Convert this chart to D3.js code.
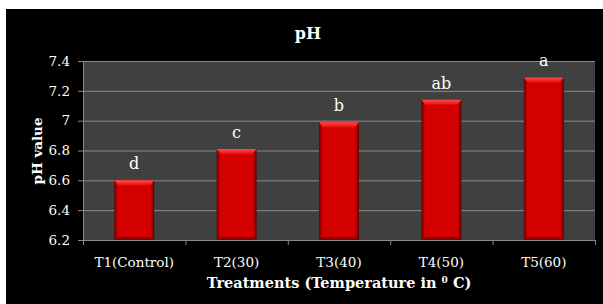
<!DOCTYPE html>
<html>
<head>
<meta charset="utf-8">
<script src="https://cdn.jsdelivr.net/npm/d3@7"></script>
<style>
  body { margin: 0; background: #fff; }
  svg { display: block; }
  text { font-family: "DejaVu Serif", "Liberation Serif", serif; fill: #fff; }
</style>
</head>
<body>
<svg id="chart"></svg>
<script>
const treatments = ["T1(Control)", "T2(30)", "T3(40)", "T4(50)", "T5(60)"];
const phValues = [6.6, 6.81, 6.99, 7.14, 7.29];
const letters = ["d", "c", "b", "ab", "a"];
const yTicks = [6.2, 6.4, 6.6, 6.8, 7, 7.2, 7.4];

const width = 603, height = 304;
const margin = { top: 61, right: 8, bottom: 64, left: 83 };
const svg = d3.select("#chart").attr("width", width).attr("height", height);

// black chart box
svg.append("rect").attr("x", 6).attr("y", 9).attr("width", width - 6).attr("height", height - 9).attr("fill", "#000");

const plotW = width - margin.left - margin.right;
const plotH = height - margin.top - margin.bottom;

const defs = svg.append("defs");
const side = defs.append("linearGradient").attr("id", "barSide").attr("x1", 0).attr("x2", 1).attr("y1", 0).attr("y2", 0);
side.append("stop").attr("offset", "0%").attr("stop-color", "#6a0000");
side.append("stop").attr("offset", "9%").attr("stop-color", "#d40000");
side.append("stop").attr("offset", "91%").attr("stop-color", "#d40000");
side.append("stop").attr("offset", "100%").attr("stop-color", "#5a0000");
const topG = defs.append("linearGradient").attr("id", "barTop").attr("x1", 0).attr("x2", 0).attr("y1", 0).attr("y2", 1);
topG.append("stop").attr("offset", "0%").attr("stop-color", "#ff4a4a");
topG.append("stop").attr("offset", "100%").attr("stop-color", "#e81010");

const x = d3.scaleBand().domain(treatments).range([0, plotW]).paddingInner(0).paddingOuter(0);
const y = d3.scaleLinear().domain([6.2, 7.4]).range([plotH, 0]);

const g = svg.append("g").attr("transform", `translate(${margin.left},${margin.top})`);

g.append("rect").attr("width", plotW).attr("height", plotH).attr("fill", "#404040");

// gridlines
g.selectAll(".grid").data(yTicks.slice(1)).enter().append("line")
  .attr("x1", 0).attr("x2", plotW)
  .attr("y1", d => y(d) + 0.5).attr("y2", d => y(d) + 0.5)
  .attr("stroke", "#8a8a8a").attr("stroke-width", 1);

// bars
const barW = x.bandwidth() * 0.39;
const bars = g.selectAll(".bar").data(treatments).enter().append("g")
  .attr("transform", d => `translate(${x(d) + (x.bandwidth() - barW) / 2},0)`);

bars.append("rect")
  .attr("y", (d, i) => y(phValues[i]))
  .attr("width", barW)
  .attr("height", (d, i) => plotH - y(phValues[i]))
  .attr("fill", "url(#barSide)");

// top bevel
bars.append("path")
  .attr("d", (d, i) => {
    const t = y(phValues[i]), b = 5;
    return `M0,${t}L${barW},${t}L${barW - 4},${t + b}L4,${t + b}Z`;
  })
  .attr("fill", "url(#barTop)");

// bottom shade
bars.append("path")
  .attr("d", () => `M0,${plotH}L${barW},${plotH}L${barW - 4},${plotH - 3}L4,${plotH - 3}Z`)
  .attr("fill", "#8a0000");

// letters
bars.append("text")
  .attr("x", barW / 2)
  .attr("y", (d, i) => y(phValues[i]) - 11)
  .attr("text-anchor", "middle")
  .attr("font-size", "16px")
  .text((d, i) => letters[i]);

// y axis
const yAxis = g.append("g")
  .call(d3.axisLeft(y).tickValues(yTicks).tickSize(5).tickPadding(8).tickFormat(d => d3.format("")(d)));
yAxis.select(".domain").attr("stroke", "#8a8a8a");
yAxis.selectAll(".tick line").attr("stroke", "#8a8a8a");
yAxis.selectAll("text").attr("fill", "#fff").attr("font-size", "13.5px").style("font-family", "DejaVu Serif, serif");

// x axis
const xAxis = g.append("g").attr("transform", `translate(0,${plotH})`)
  .call(d3.axisBottom(x).tickSize(0).tickPadding(17));
xAxis.select(".domain").attr("stroke", "#8a8a8a");
xAxis.selectAll("text").attr("fill", "#fff").attr("font-size", "13.5px").style("font-family", "DejaVu Serif, serif");

// boundary ticks on x axis
const bounds = treatments.map(d => x(d)).concat([plotW]);
g.selectAll(".xt").data(bounds).enter().append("line")
  .attr("x1", d => d + 0.5).attr("x2", d => d + 0.5)
  .attr("y1", plotH).attr("y2", plotH + 5)
  .attr("stroke", "#8a8a8a");

// title
svg.append("text").attr("x", 308).attr("y", 39)
  .attr("text-anchor", "middle").attr("font-size", "16px").attr("font-weight", "bold")
  .text("pH");

// x title
const xt = svg.append("text").attr("x", margin.left + plotW / 2).attr("y", 288)
  .attr("text-anchor", "middle").attr("font-size", "14.5px").attr("font-weight", "bold");
xt.append("tspan").text("Treatments (Temperature in ");
xt.append("tspan").attr("font-size", "9px").attr("dy", -5).text("0");
xt.append("tspan").attr("dy", 5).text(" C)");

// y title
svg.append("text")
  .attr("transform", `translate(42,151) rotate(-90)`)
  .attr("text-anchor", "middle").attr("font-size", "13.5px").attr("font-weight", "bold")
  .text("pH value");
</script>
</body>
</html>
